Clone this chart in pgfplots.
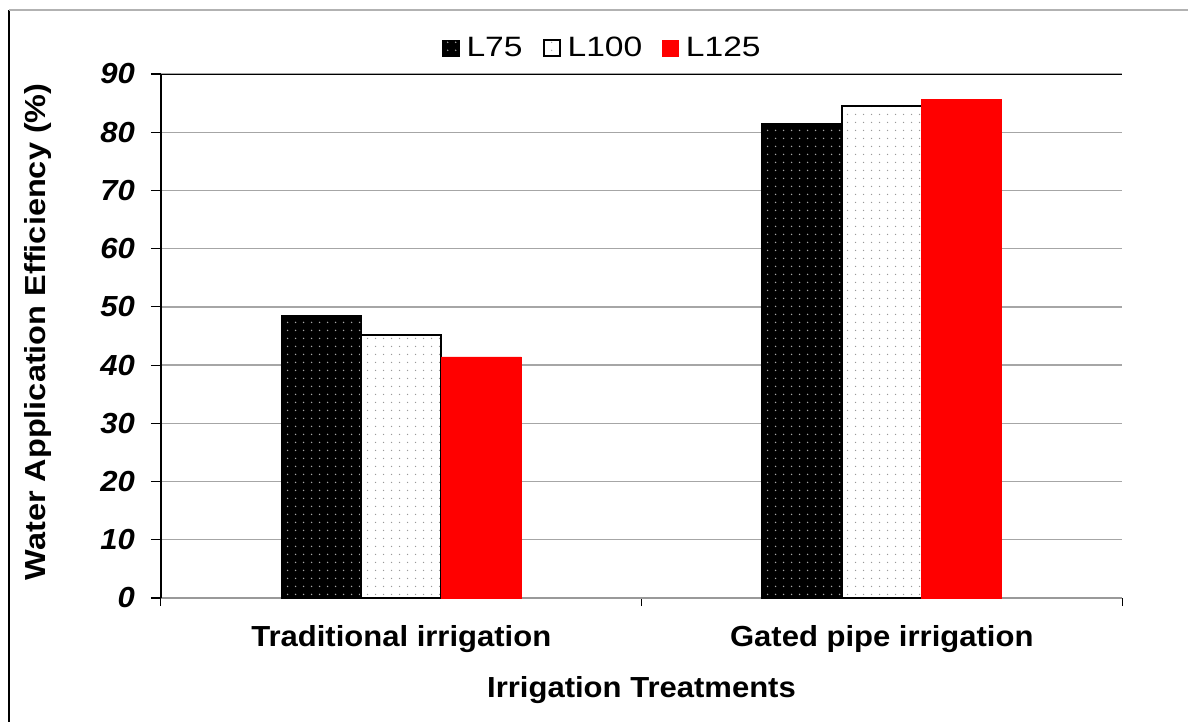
\documentclass[border=0pt]{standalone}
\usepackage{fontspec}
\setmainfont{Liberation Sans}[FakeStretch=1.07]
\newfontfamily\legfont{Liberation Sans}[FakeStretch=1.2]
\newfontfamily\ylabfont{Liberation Sans}[FakeStretch=1.12]
\usepackage{pgfplots}
\pgfplotsset{compat=1.18}
\usetikzlibrary{patterns.meta}

\pgfplotstableread{
x L75 L100 L125
0.5 48.5 45.1 41.4
1.5 81.4 84.5 85.6
}\datatab

\begin{document}
\begin{tikzpicture}
\begin{axis}[
  name=ax,
  scale only axis, width=480.5pt, height=262pt,
  xmin=0, xmax=2, ymin=0, ymax=90,
  axis x line*=bottom, axis y line*=left,
  x axis line style={-, draw=gray!80, line width=0.8pt},
  y axis line style={-, draw=black, line width=0.9pt},
  ybar=0pt, bar width=0.1665,
  xtick={0.5,1.5},
  xticklabels={Traditional irrigation, Gated pipe irrigation},
  major x tick style={draw=none},
  minor xtick={0,1,2},
  minor tick length=4pt,
  major tick length=5pt,
  tick align=outside,
  minor x tick style={draw=black, line width=0.5pt},
  ytick={0,10,...,90},
  y tick style={draw=black, line width=0.6pt},
  ymajorgrids,
  major grid style={draw=gray!70, line width=0.7pt},
  /pgf/number format/assume math mode=true,
  yticklabel style={font=\bfseries\itshape\fontsize{14.5}{16}\selectfont, xshift=-4.5pt},
  xticklabel style={font=\bfseries\fontsize{14.5}{16}\selectfont, yshift=-5pt},
  xlabel={Irrigation Treatments},
  ylabel={Water Application Efficiency (\%)},
  xlabel style={font=\bfseries\fontsize{14.5}{16}\selectfont, at={(axis description cs:0.5,-0.1756)}, anchor=center},
  ylabel style={font=\ylabfont\bfseries\fontsize{14.5}{16}\selectfont, at={(axis description cs:-0.128,0.508)}, anchor=center},
  legend style={at={(axis description cs:0.5,1)}, anchor=south, yshift=3pt, xshift=-19pt,
    legend columns=3, draw=none, fill=none,
    font=\legfont\fontsize{14}{16}\selectfont,
    /tikz/every even column/.append style={column sep=8pt}},
  mylegend/.style={legend image code/.code={\draw[##1] (0pt,-4pt) rectangle (8pt,4pt); \path (9.5pt,0pt);}},
]
\addplot[draw=black, fill=black, line width=0.6pt,
  postaction={pattern={Dots[distance=4pt,radius=0.45pt]}, pattern color=gray!70},
  mylegend] table[x=x,y=L75]{\datatab};
\addplot[draw=black, fill=white, line width=1pt,
  postaction={pattern={Dots[distance=4pt,radius=0.4pt]}, pattern color=gray!80},
  mylegend] table[x=x,y=L100]{\datatab};
\addplot[draw=red, fill=red, line width=0.3pt, mylegend] table[x=x,y=L125]{\datatab};
\legend{L75, L100, L125}
\draw[black, line width=0.8pt] (axis cs:0,90) -- (axis cs:2,90);
\end{axis}
\pgfresetboundingbox
\path[use as bounding box] ([shift={(-80.5pt,-62pt)}]ax.south west) rectangle ([shift={(513.5pt,299pt)}]ax.south west);
\draw[black, line width=0.6pt] ([shift={(-76pt,-62pt)}]ax.south west) -- ([shift={(-76pt,294pt)}]ax.south west);
\draw[gray!60, line width=0.6pt] ([shift={(-76pt,294pt)}]ax.south west) -- ([shift={(513.5pt,294pt)}]ax.south west);
\end{tikzpicture}
\end{document}
